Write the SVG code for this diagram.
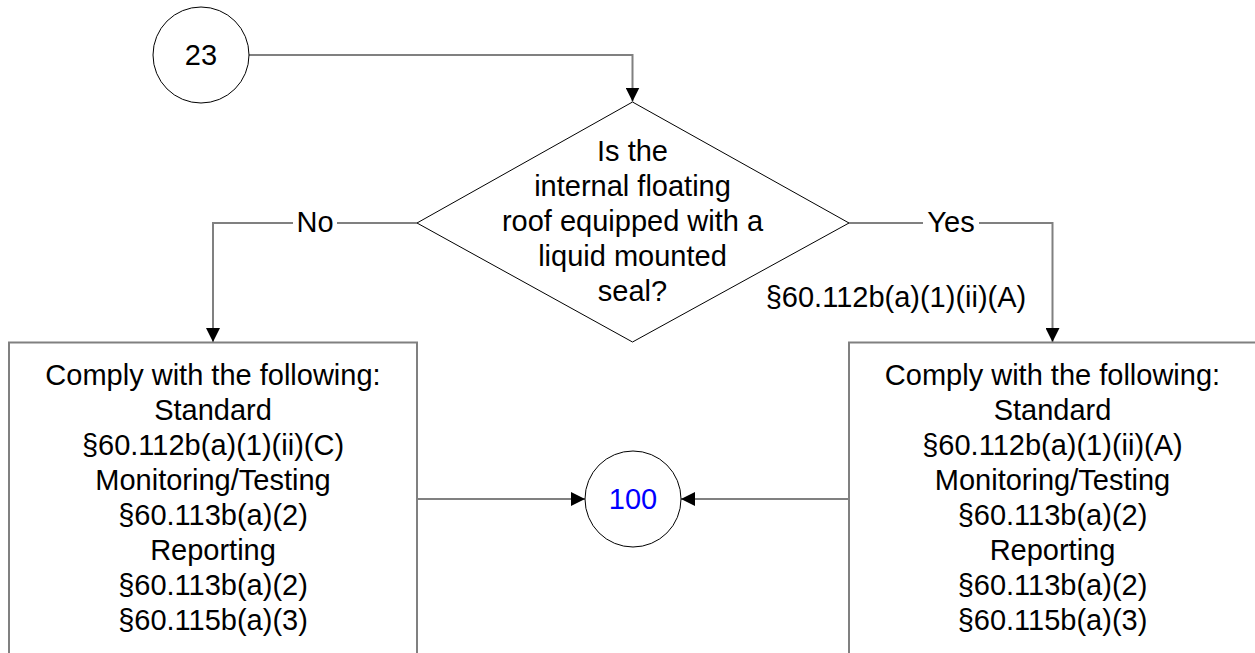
<svg xmlns="http://www.w3.org/2000/svg" width="1255" height="653" viewBox="0 0 1255 653">
<style>
text{font-family:"Liberation Sans",Arial,sans-serif;font-size:29px;fill:#000;text-anchor:middle}
.shape{fill:#fff;stroke:#000;stroke-width:1}
.box{fill:#fff;stroke:#808080;stroke-width:2}
.conn{fill:none;stroke:#808080;stroke-width:2}
.blue{fill:#0000ff}
</style>
<defs>
<marker id="arr" viewBox="0 0 14 14" refX="14" refY="7" markerWidth="14" markerHeight="14" markerUnits="userSpaceOnUse" orient="auto">
<path d="M0,0 L14,7 L0,14 Z" fill="#000"/>
</marker>
</defs>
<rect width="1255" height="653" fill="#fff"/>
<g id="connectors">
<polyline class="conn" points="249,55 632.5,55 632.5,101.5" marker-end="url(#arr)"/>
<polyline class="conn" points="417,223 213,223 213,342" marker-end="url(#arr)"/>
<polyline class="conn" points="849,223 1052.5,223 1052.5,342" marker-end="url(#arr)"/>
<line class="conn" x1="417" y1="499" x2="585" y2="499" marker-end="url(#arr)"/>
<line class="conn" x1="849" y1="499" x2="681" y2="499" marker-end="url(#arr)"/>
<rect x="293" y="205" width="44" height="34" fill="#fff"/>
<text x="315" y="232">No</text>
<rect x="923" y="205" width="56" height="34" fill="#fff"/>
<text x="951" y="232">Yes</text>
<text x="896" y="307">§60.112b(a)(1)(ii)(A)</text>
</g>
<g id="node23">
<circle class="shape" cx="201" cy="55" r="48"/>
<text x="201" y="65">23</text>
</g>
<g id="decision">
<polygon class="shape" points="632.5,102 849,223 632.5,342 417,223"/>
<text x="632.5" y="161">Is the</text>
<text x="632.5" y="196">internal floating</text>
<text x="632.5" y="231">roof equipped with a</text>
<text x="632.5" y="266">liquid mounted</text>
<text x="632.5" y="301">seal?</text>
</g>
<g id="boxNo">
<rect class="box" x="9" y="342.5" width="408" height="320"/>
<text x="213" y="385">Comply with the following:</text>
<text x="213" y="420">Standard</text>
<text x="213" y="455">§60.112b(a)(1)(ii)(C)</text>
<text x="213" y="490">Monitoring/Testing</text>
<text x="213" y="525">§60.113b(a)(2)</text>
<text x="213" y="560">Reporting</text>
<text x="213" y="595">§60.113b(a)(2)</text>
<text x="213" y="630">§60.115b(a)(3)</text>
</g>
<g id="boxYes">
<rect class="box" x="849" y="342.5" width="408" height="320"/>
<text x="1052.5" y="385">Comply with the following:</text>
<text x="1052.5" y="420">Standard</text>
<text x="1052.5" y="455">§60.112b(a)(1)(ii)(A)</text>
<text x="1052.5" y="490">Monitoring/Testing</text>
<text x="1052.5" y="525">§60.113b(a)(2)</text>
<text x="1052.5" y="560">Reporting</text>
<text x="1052.5" y="595">§60.113b(a)(2)</text>
<text x="1052.5" y="630">§60.115b(a)(3)</text>
</g>
<g id="node100">
<circle class="shape" cx="633" cy="499" r="48"/>
<text class="blue" x="633" y="509">100</text>
</g>
</svg>
